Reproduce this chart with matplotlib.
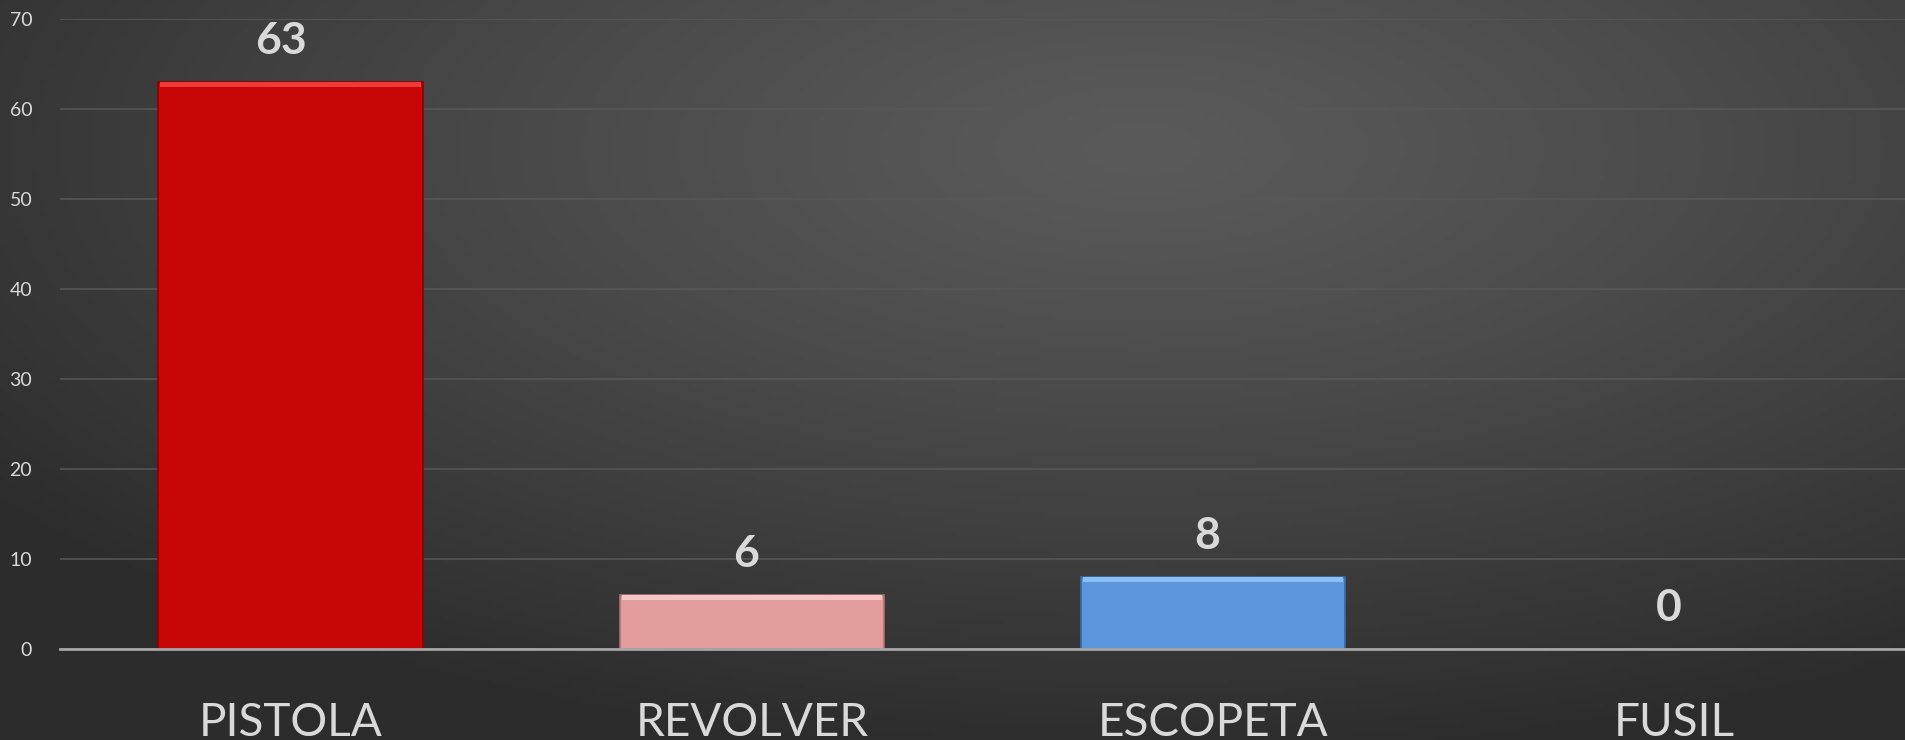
import numpy as np
import matplotlib
matplotlib.use("Agg")
from matplotlib import pyplot as plt

categories = ["PISTOLA", "REVOLVER", "ESCOPETA", "FUSIL"]
values = [63, 6, 8, 0]
colors = ["#c80606", "#e39c9c", "#5b96dc", "#888888"]
top_colors = ["#f03a3a", "#f6c6c6", "#8cc0f4", "#aaaaaa"]
edge_colors = ["#8a0202", "#b07070", "#3a6aa8", "#666666"]
yticks = [0, 10, 20, 30, 40, 50, 60, 70]

plt.rcParams['font.family'] = ['Lato', 'DejaVu Sans']

fig = plt.figure(figsize=(19.05, 7.4), dpi=100)

# radial grey background
bg = fig.add_axes([0, 0, 1, 1], zorder=-10)
gx, gy = np.meshgrid(np.linspace(0, 1, 400), np.linspace(0, 1, 160))
r = np.sqrt(((gx - 0.6) * 1.0) ** 2 + ((gy - 0.2) * 0.9) ** 2)
r = np.clip(r / 0.75, 0, 1) ** 1.2
c0 = np.array([0x5a, 0x5a, 0x5a]) / 255
c1 = np.array([0x2c, 0x2c, 0x2c]) / 255
img = c0[None, None, :] * (1 - r[..., None]) + c1[None, None, :] * r[..., None]
bg.imshow(img, aspect="auto", extent=[0, 1, 0, 1], origin="upper")
bg.axis("off")

ax = fig.add_axes([60 / 1905, 1 - 649 / 740, 1 - 60 / 1905, (649 - 19) / 740])
ax.patch.set_alpha(0)
x = np.arange(len(categories))
w = 0.573
ax.bar(x, values, width=w, color=colors, edgecolor=edge_colors, linewidth=1.2, zorder=3)
# bevel highlight on top of each bar
hl = [min(v, 0.5) for v in values]
ax.bar(x, hl, width=w * 0.985, bottom=[v - h for v, h in zip(values, hl)],
       color=top_colors, linewidth=0, zorder=4)

for xi, v in zip(x, values):
    ax.annotate(str(v), (xi, v), xytext=(-7 if v == 63 else -4, 15), textcoords="offset points",
                ha="center", va="bottom", fontsize=32, fontweight="bold", color="#d9d9d9",
                zorder=5)

ax.set_xlim(-0.5, 3.5)
ax.set_ylim(0, 70)
ax.set_yticks(yticks)
ax.set_xticks(x)
ax.set_xticklabels(categories, fontsize=33, color="#d9d9d9")
ax.tick_params(axis="x", length=0, pad=38)
ax.tick_params(axis="y", length=0, labelsize=14, labelcolor="#d9d9d9", pad=20)
ax.yaxis.grid(True, color="#585858", linewidth=1.1, zorder=0)
ax.set_axisbelow(True)
for s in ["top", "right", "left"]:
    ax.spines[s].set_visible(False)
ax.spines["bottom"].set_color("#a6a6a6")
ax.spines["bottom"].set_linewidth(2)
ax.spines["bottom"].set_zorder(6)

fig.savefig("out.png", dpi=100)
